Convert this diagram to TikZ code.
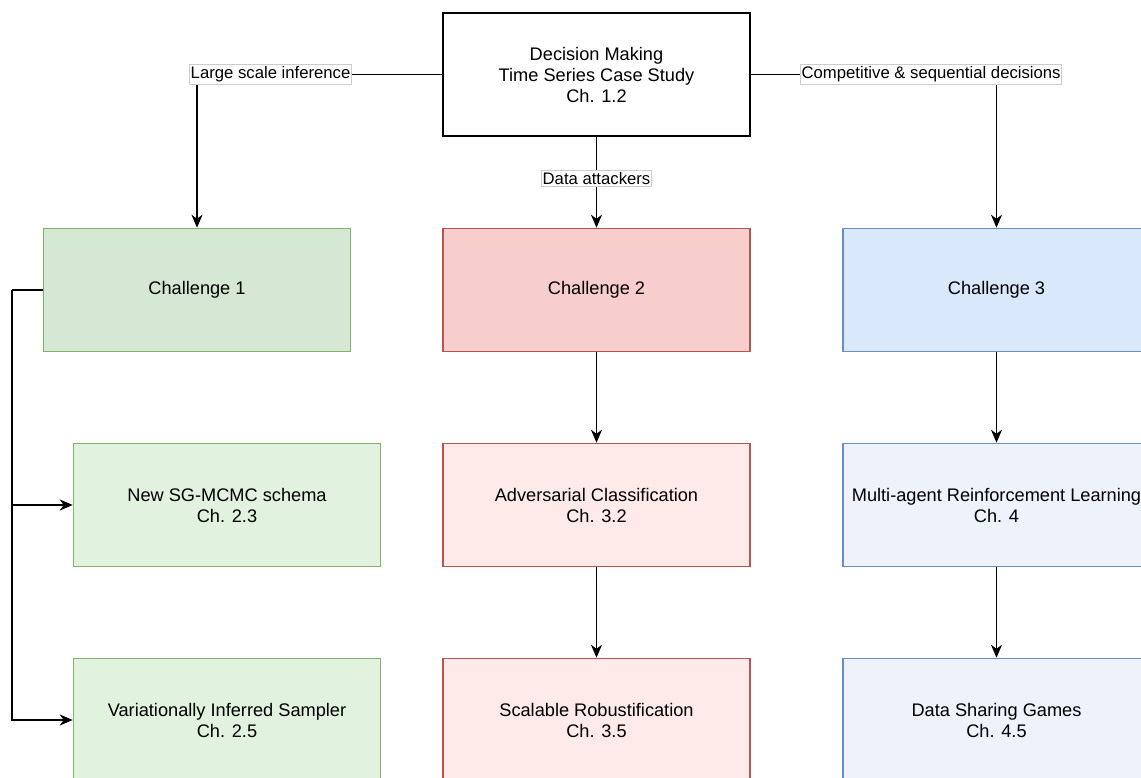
\documentclass[tikz,border=0pt]{standalone}
\usepackage{fontspec}
\setmainfont{Liberation Sans}
\usetikzlibrary{arrows.meta}
\definecolor{gfill}{HTML}{D5E8D4}\definecolor{gline}{HTML}{82B366}
\definecolor{rfill}{HTML}{F8CECC}\definecolor{rline}{HTML}{B85450}
\definecolor{bfill}{HTML}{DAE8FC}\definecolor{bline}{HTML}{6C8EBF}
\definecolor{glight}{HTML}{E1F3DE}\definecolor{rlight}{HTML}{FFEAEA}\definecolor{blight}{HTML}{EDF2FB}
\definecolor{lblframe}{HTML}{CCCCCC}
\tikzset{
  box/.style={draw, line width=1.5pt, minimum width=307pt, minimum height=123pt, inner sep=0pt,
    align=center, font=\fontsize{18.2}{21}\selectfont},
  topbox/.style={box, draw=black, fill=white},
  gbox/.style={box, draw=gline, fill=gfill},
  rbox/.style={box, draw=rline, fill=rfill},
  bbox/.style={box, draw=bline, fill=bfill},
  glbox/.style={box, draw=gline, fill=glight},
  rlbox/.style={box, draw=rline, fill=rlight},
  blbox/.style={box, draw=bline, fill=blight},
  conn/.style={draw=black, line width=1.6pt, -{Stealth[length=13pt,width=11pt,inset=4pt]}},
  plainconn/.style={draw=black, line width=1.6pt},
  lbl/.style={fill=white, draw=lblframe, line width=0.6pt, inner xsep=1pt, inner ysep=2pt,
    font=\fontsize{16.7}{19}\selectfont},
}
\begin{document}
\begin{tikzpicture}[x=1pt,y=-1pt]
\useasboundingbox (0,0) rectangle (1141,778);
\clip (0,0) rectangle (1141,778);
\fill[white] (0,0) rectangle (1141,778);

\node[topbox] (top) at (596.5,74.5) {Decision Making\\Time Series Case Study\\Ch. 1.2};

\node[gbox] (c1) at (197,290) {Challenge 1};
\node[rbox] (c2) at (596.5,290) {Challenge 2};
\node[bbox] (c3) at (996.5,290) {Challenge 3};

\node[glbox] (l2) at (227,505) {New SG-MCMC schema\\Ch. 2.3};
\node[rlbox] (m2) at (596.5,505) {Adversarial Classification\\Ch. 3.2};
\node[blbox] (r2) at (996.5,505) {Multi-agent Reinforcement Learning\\Ch. 4};

\node[glbox] (l3) at (227,720) {Variationally Inferred Sampler\\Ch. 2.5};
\node[rlbox] (m3) at (596.5,720) {Scalable Robustification\\Ch. 3.5};
\node[blbox] (r3) at (996.5,720) {Data Sharing Games\\Ch. 4.5};

\draw[conn] (top.west) -| (c1.north) node[lbl, pos=0.35] {Large scale inference};
\draw[conn] (top.east) -| (c3.north) node[lbl, pos=0.367] {Competitive \& sequential decisions};
\draw[conn] (top.south) -- (c2.north) node[lbl, pos=0.46] {Data attackers};

\draw[conn] (c2.south) -- (m2.north);
\draw[conn] (m2.south) -- (m3.north);
\draw[conn] (c3.south) -- (r2.north);
\draw[conn] (r2.south) -- (r3.north);

\coordinate (trunk) at (12,290);
\draw[plainconn] (c1.west) -- (trunk);
\draw[conn] (trunk) |- (l2.west);
\draw[conn] (trunk) |- (l3.west);
\end{tikzpicture}
\end{document}
